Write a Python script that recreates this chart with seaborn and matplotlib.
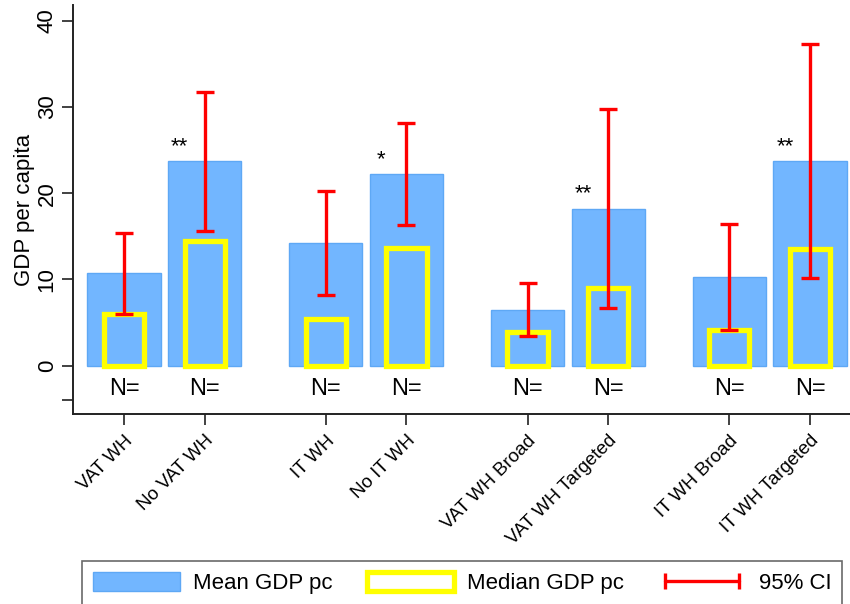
import numpy as np
import pandas as pd
import seaborn as sns
import matplotlib
matplotlib.use("Agg")
import matplotlib.pyplot as plt
from matplotlib.patches import Patch
from matplotlib.lines import Line2D

# ---- data ----
categories = ["VAT WH", "No VAT WH", "IT WH", "No IT WH",
              "VAT WH Broad", "VAT WH Targeted", "IT WH Broad", "IT WH Targeted"]
positions = [0, 1, 2.5, 3.5, 5, 6, 7.5, 8.5]
mean_gdp = [10.7, 23.7, 14.2, 22.2, 6.5, 18.2, 10.25, 23.7]
median_gdp = [6.0, 14.5, 5.4, 13.6, 3.9, 9.0, 4.2, 13.5]
ci_low = [6.0, 15.6, 8.2, 16.3, 3.5, 6.7, 4.2, 10.2]
ci_high = [15.4, 31.7, 20.2, 28.1, 9.6, 29.7, 16.4, 37.3]
stars = ["", "**", "", "*", "", "**", "", "**"]
yticks = [0, 10, 20, 30, 40]

df = pd.DataFrame({"pos": positions, "cat": categories, "mean": mean_gdp,
                   "median": median_gdp, "lo": ci_low, "hi": ci_high, "star": stars})

sns.set_style("white")
plt.rcParams["font.family"] = ["Liberation Sans", "DejaVu Sans"]
plt.rcParams["text.color"] = "black"
plt.rcParams["xtick.color"] = "black"
plt.rcParams["ytick.color"] = "black"
plt.rcParams["axes.labelcolor"] = "black"

BLUE = "#72b6ff"
BLUE_EDGE = "#5ea8f5"
YELLOW = "#ffff00"
RED = "#ff0000"

fig = plt.figure(figsize=(8.5, 6.04), dpi=100)
ax = fig.add_axes([73 / 850, 1 - 414 / 604, (861 - 73) / 850, (414 - 5) / 604])

sns.barplot(data=df, x="pos", y="mean", native_scale=True, width=0.91,
            color=BLUE, saturation=1, edgecolor=BLUE_EDGE, linewidth=1,
            errorbar=None, ax=ax, zorder=1)
sns.barplot(data=df, x="pos", y="median", native_scale=True, width=0.5,
            facecolor="none", edgecolor=YELLOW, linewidth=3.8,
            errorbar=None, ax=ax, zorder=2)

mid = (df["lo"] + df["hi"]) / 2
ax.errorbar(df["pos"], mid, yerr=(df["hi"] - df["lo"]) / 2, fmt="none",
            ecolor=RED, elinewidth=2.4, capsize=6.5, capthick=2.4, zorder=3)

for p, m, s in zip(df["pos"], df["mean"], df["star"]):
    if s:
        ax.text(p - 0.31, m + 0.5, s, ha="center", va="bottom", fontsize=16,
                color="black")
    ax.text(p, -2.7, "N=", ha="center", va="center", fontsize=17, color="black")

ax.set_xlim(-0.632, 9.132)
ax.set_ylim(-5.59, 41.8)
ax.set_yticks([-4] + yticks)
ax.set_yticklabels([""] + [str(t) for t in yticks], rotation=90, va="center",
                   fontsize=16)
ax.set_xticks(positions)
ax.set_xticklabels(categories, rotation=45, ha="right", va="top",
                   rotation_mode="anchor", fontsize=13.5)
ax.set_xlabel("")
ax.set_ylabel("GDP per capita", fontsize=16, labelpad=1)
ax.tick_params(axis="both", direction="out", length=8, width=1.3,
               color="#333333", bottom=True, left=True)
ax.tick_params(axis="x", pad=5)
ax.tick_params(axis="y", pad=3)
for side in ["top", "right"]:
    ax.spines[side].set_visible(False)
for side in ["left", "bottom"]:
    ax.spines[side].set_color("#222222")
    ax.spines[side].set_linewidth(1.4)

handles = [
    Patch(facecolor=BLUE, edgecolor=BLUE_EDGE, linewidth=1),
    Patch(facecolor="white", edgecolor=YELLOW, linewidth=3.8),
    Line2D([0, 1], [0, 0], color=RED, lw=2.4, marker="|", markersize=11,
           markeredgewidth=2.4),
]
labels = ["Mean GDP pc", "Median GDP pc", "95% CI"]
leg = fig.legend(handles, labels, loc="upper left",
                 bbox_to_anchor=(82 / 850, 1 - 561 / 604), ncol=3,
                 frameon=True, fancybox=False, edgecolor="#444444",
                 fontsize=16, handlelength=3.9, handleheight=0.95,
                 handletextpad=0.6, columnspacing=1.55, borderpad=0.5,
                 borderaxespad=0, numpoints=2)
leg.get_frame().set_linewidth(1.2)

fig.savefig("out.png", dpi=100)
